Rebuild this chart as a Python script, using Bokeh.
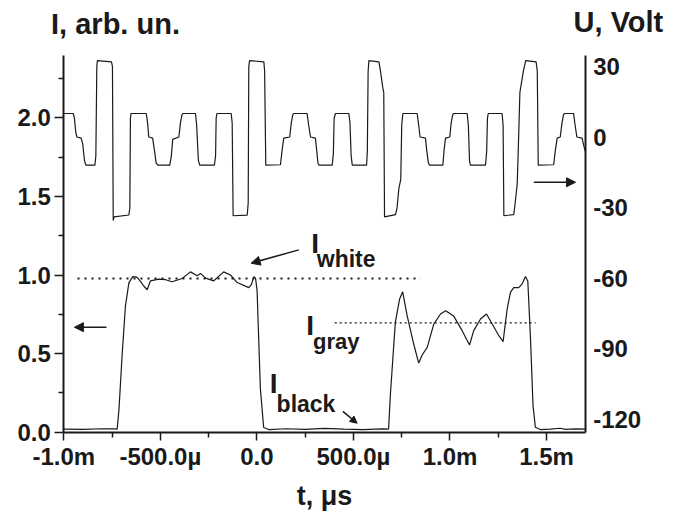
from bokeh.plotting import figure
from bokeh.models import (Range1d, LinearAxis, FixedTicker, PrintfTickFormatter,
                          Label, Arrow, NormalHead)
from bokeh.embed import file_html
from bokeh.resources import INLINE

# ---------------- data ----------------
# time in ms
u_t = [-1.000, -0.951, -0.945, -0.938, -0.932, -0.910, -0.902, -0.893, -0.886, -0.839,
       -0.834, -0.829, -0.826, -0.753, -0.748, -0.744, -0.740, -0.663, -0.658, -0.655,
       -0.652, -0.573, -0.566, -0.560, -0.540, -0.530, -0.522, -0.513, -0.451, -0.443,
       -0.436, -0.404, -0.396, -0.388, -0.382, -0.318, -0.312, -0.303, -0.296, -0.220,
       -0.214, -0.211, -0.207, -0.133, -0.128, -0.123, -0.050, -0.045, -0.042, -0.038,
       0.036, 0.040, 0.046, 0.122, 0.130, 0.139, 0.170, 0.178, 0.186, 0.191,
       0.260, 0.268, 0.278, 0.303, 0.310, 0.316, 0.321, 0.390, 0.396, 0.400,
       0.407, 0.476, 0.482, 0.488, 0.494, 0.568, 0.572, 0.576, 0.580, 0.632,
       0.640, 0.652, 0.657, 0.661, 0.718, 0.726, 0.735, 0.745, 0.750, 0.756,
       0.830, 0.838, 0.845, 0.873, 0.880, 0.888, 0.894, 0.963, 0.970, 0.977,
       0.999, 1.006, 1.014, 1.020, 1.089, 1.095, 1.101, 1.106, 1.184, 1.190,
       1.194, 1.198, 1.270, 1.275, 1.279, 1.330, 1.335, 1.348, 1.352, 1.362,
       1.366, 1.380, 1.392, 1.446, 1.452, 1.457, 1.537, 1.545, 1.555, 1.571,
       1.580, 1.588, 1.593, 1.640, 1.648, 1.657, 1.684, 1.691, 1.700]
u_v = [10, 10, 8, 2, 0, -0.5, -3, -10, -12, -12,
       -8, 30, 32.5, 32, 30, -35.5, -34, -33.2, -30, 8,
       10, 10, 6, 0, -0.5, -6, -11, -12, -12, -8,
       -1, 0, 6, 9.5, 10, 10, 5, -10, -12, -12,
       -8, 8, 10, 10, 6, -33.5, -33.2, -28, 30, 32.5,
       32, 28, -12, -11.8, -6, -0.5, 0, 6, 9.5, 10,
       10, 5, 0, -0.5, -6, -11, -12, -12, -7, 8,
       10, 10, 6, -8, -12, -12, -6, 28, 32.5, 32,
       28, 21, 19, -34, -33, -30, -22, -18, 5, 10,
       10, 5, 0, -0.5, -6, -11, -12, -12, -5, -0.5,
       0, 6, 9.5, 10, 10, 5, -10, -12, -12, -6,
       8, 10, 10, 5, -33.5, -33, -30, -20, -10, 19,
       21, 28, 32.5, 32, 28, -12, -11.8, -6, -0.5, 0,
       6, 9.5, 10, 10, 5, 0, -0.5, -3, -6]

i_t = [-1.000, -0.900, -0.800, -0.740, -0.7235, -0.714, -0.698, -0.681, -0.663, -0.643,
       -0.620, -0.603, -0.586, -0.568, -0.551, -0.508, -0.473, -0.439, -0.387, -0.344,
       -0.309, -0.292, -0.266, -0.223, -0.172, -0.137, -0.102, -0.042, -0.028, -0.016,
       -0.007, 0.001, 0.018, 0.035, 0.061, 0.150, 0.250, 0.350, 0.450, 0.550,
       0.650, 0.682, 0.691, 0.717, 0.739, 0.755, 0.778, 0.812, 0.838, 0.856,
       0.882, 0.916, 0.951, 0.977, 0.994, 1.020, 1.063, 1.101, 1.123, 1.158,
       1.189, 1.218, 1.253, 1.275, 1.296, 1.313, 1.330, 1.356, 1.373, 1.391,
       1.403, 1.417, 1.430, 1.442, 1.468, 1.520, 1.571, 1.597, 1.650, 1.700]
i_v = [0.020, 0.018, 0.022, 0.021, 0.020, 0.150, 0.490, 0.800, 0.950, 0.990,
       0.985, 0.960, 0.930, 0.906, 0.963, 0.974, 0.970, 0.957, 0.978, 1.020,
       0.995, 1.010, 0.980, 0.963, 1.020, 1.000, 0.952, 0.920, 0.940, 0.990,
       0.980, 0.900, 0.277, 0.030, 0.017, 0.022, 0.018, 0.024, 0.019, 0.016,
       0.021, 0.020, 0.233, 0.700, 0.847, 0.893, 0.741, 0.561, 0.440, 0.491,
       0.540, 0.688, 0.752, 0.773, 0.760, 0.737, 0.646, 0.555, 0.646, 0.720,
       0.752, 0.690, 0.614, 0.576, 0.783, 0.889, 0.920, 0.920, 0.942, 0.990,
       0.960, 0.593, 0.170, 0.032, 0.017, 0.020, 0.025, 0.018, 0.021, 0.020]

white_level = 0.978
white_span = [-0.929, 0.848]
gray_level = 0.695
gray_span = [0.403, 1.444]

x_ticks = [-1.0, -0.5, 0.0, 0.5, 1.0, 1.5]
x_tick_labels = ["-1.0m", "-500.0\u00b5", "0.0", "500.0\u00b5", "1.0m", "1.5m"]
x_minor = [-0.75, -0.25, 0.25, 0.75, 1.25]
i_ticks = [0.0, 0.5, 1.0, 1.5, 2.0]
i_minor = [0.25, 0.75, 1.25, 1.75, 2.25]
u_ticks = [30, 0, -30, -60, -90, -120]

# drawn extent of the axes (data units)
T_MIN, T_MAX = -1.0, 1.70
I_MIN, I_MAX = -0.002, 2.396
U_MIN, U_MAX = -125.74, 34.68
# the frame covers the whole canvas; axes are placed at fixed locations
T_LO, T_HI = -1.3278, 2.1471
I_LO, I_HI = -0.5617, 2.7462
U_LO, U_HI = -163.19, 58.09

# ---------------- figure ----------------
FONT = "Liberation Sans"
INK = "#1a1a1a"
p = figure(width=671, height=520, output_backend="svg", toolbar_location=None,
           x_range=Range1d(T_LO, T_HI), y_range=Range1d(I_LO, I_HI),
           min_border=0)
p.extra_y_ranges = {"U": Range1d(U_LO, U_HI)}
p.grid.visible = False
p.outline_line_color = None
p.title.visible = False

p.line(u_t, u_v, y_range_name="U", line_color=INK, line_width=1.2)
p.line(i_t, i_v, line_color=INK, line_width=1.2)
p.line(white_span, [white_level, white_level], line_color=INK,
       line_width=2, line_dash="2 5")
p.line(gray_span, [gray_level, gray_level], line_color=INK,
       line_width=1.2, line_dash="2 3")

def style_axis(ax, size="24px"):
    ax.axis_line_color = INK
    ax.axis_line_width = 2
    ax.major_tick_line_color = INK
    ax.minor_tick_line_color = INK
    ax.major_tick_line_width = 1.5
    ax.minor_tick_line_width = 1.5
    ax.major_tick_in = 0
    ax.minor_tick_in = 0
    ax.major_label_text_font = FONT
    ax.major_label_text_font_style = "bold"
    ax.major_label_text_font_size = size
    ax.major_label_text_color = INK

xa = p.xaxis[0]
xa.ticker = FixedTicker(ticks=x_ticks, minor_ticks=x_minor)
xa.major_label_overrides = {k: v for k, v in zip(x_ticks, x_tick_labels)}
xa.bounds = (T_MIN, T_MAX)
xa.fixed_location = I_MIN
style_axis(xa)
xa.major_tick_out = 8
xa.minor_tick_out = 5
xa.major_label_standoff = 2

ya = p.yaxis[0]
ya.ticker = FixedTicker(ticks=i_ticks, minor_ticks=i_minor)
ya.formatter = PrintfTickFormatter(format="%.1f")
ya.bounds = (I_MIN, I_MAX)
ya.fixed_location = T_MIN
style_axis(ya)
ya.major_tick_out = 9
ya.minor_tick_out = 5
ya.major_label_standoff = 4

ua = LinearAxis(y_range_name="U")
ua.ticker = FixedTicker(ticks=u_ticks, minor_ticks=[])
ua.formatter = PrintfTickFormatter(format="%d")
ua.bounds = (U_MIN, U_MAX)
ua.fixed_location = T_MAX
style_axis(ua)
ua.major_tick_out = 0
ua.minor_tick_out = 0
ua.major_label_standoff = 8
p.add_layout(ua, "right")

def lab(x, y, text, size, **kw):
    p.add_layout(Label(x=x, y=y, text=text, text_font=FONT, text_font_style="bold",
                       text_font_size=size, text_color=INK,
                       text_baseline="alphabetic", **kw))

lab(-1.066, 2.598, "I, arb. un.", "29px")
lab(1.640, 2.608, "U, Volt", "29px")
lab(0.350, -0.406, "t, \u03bcs", "27px", text_align="center")
lab(0.281, 1.199, "I", "28px")
lab(0.310, 1.100, "white", "23px")
lab(0.255, 0.677, "I", "28px")
lab(0.291, 0.580, "gray", "22px")
lab(0.066, 0.310, "I", "28px")
lab(0.102, 0.178, "black", "23px")

def arrow(x0, y0, x1, y1, size=9):
    p.add_layout(Arrow(x_start=x0, y_start=y0, x_end=x1, y_end=y1,
                       line_color=INK, line_width=1.5,
                       end=NormalHead(size=size, fill_color=INK,
                                      line_color=INK, line_width=1)))

arrow(0.217, 1.160, -0.030, 1.075)
arrow(0.445, 0.132, 0.519, 0.057, size=7)
arrow(-0.779, 0.668, -0.945, 0.668)
arrow(1.434, 1.590, 1.650, 1.590)

open("out.html", "w").write(file_html(p, INLINE))
